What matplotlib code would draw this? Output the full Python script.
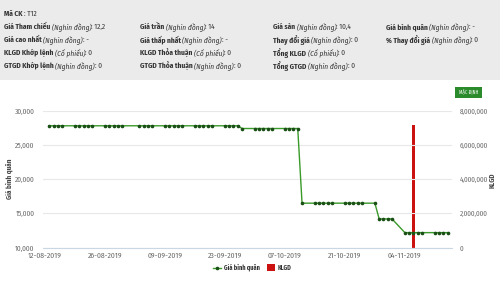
import matplotlib
matplotlib.use('Agg')
import matplotlib.pyplot as plt
import matplotlib.dates as mdates
from matplotlib import font_manager
from matplotlib.patches import Rectangle
import pandas as pd

# chọn font chữ hẹp có sẵn
have = set(f.name for f in font_manager.fontManager.ttflist)
cands = ['Fira Sans Condensed', 'Roboto Condensed', 'Encode Sans Condensed',
         'Barlow Semi Condensed', 'PT Sans Narrow', 'Archivo Narrow', 'Open Sans Condensed']
narrow = [c for c in cands if c in have]
plt.rcParams['font.family'] = narrow[:1] + ['DejaVu Sans']

# giá bình quân theo phiên
dates = ['2019-08-13', '2019-08-14', '2019-08-15', '2019-08-16',
         '2019-08-19', '2019-08-20', '2019-08-21', '2019-08-22', '2019-08-23',
         '2019-08-26', '2019-08-27', '2019-08-28', '2019-08-29', '2019-08-30',
         '2019-09-03', '2019-09-04', '2019-09-05', '2019-09-06',
         '2019-09-09', '2019-09-10', '2019-09-11', '2019-09-12', '2019-09-13',
         '2019-09-16', '2019-09-17', '2019-09-18', '2019-09-19', '2019-09-20',
         '2019-09-23', '2019-09-24', '2019-09-25', '2019-09-26', '2019-09-27',
         '2019-09-30', '2019-10-01', '2019-10-02', '2019-10-03', '2019-10-04',
         '2019-10-07', '2019-10-08', '2019-10-09', '2019-10-10', '2019-10-11',
         '2019-10-14', '2019-10-15', '2019-10-16', '2019-10-17', '2019-10-18',
         '2019-10-21', '2019-10-22', '2019-10-23', '2019-10-24', '2019-10-25',
         '2019-10-28', '2019-10-29', '2019-10-30', '2019-10-31', '2019-11-01',
         '2019-11-04', '2019-11-05', '2019-11-06', '2019-11-07', '2019-11-08',
         '2019-11-11', '2019-11-12', '2019-11-13', '2019-11-14']
prices = [27800, 27800, 27800, 27800,
          27800, 27800, 27800, 27800, 27800,
          27800, 27800, 27800, 27800, 27800,
          27800, 27800, 27800, 27800,
          27800, 27800, 27800, 27800, 27800,
          27800, 27800, 27800, 27800, 27800,
          27800, 27800, 27800, 27800, 27400,
          27400, 27400, 27400, 27400, 27400,
          27400, 27400, 27400, 27400, 16500,
          16500, 16500, 16500, 16500, 16500,
          16500, 16500, 16500, 16500, 16500,
          16500, 14200, 14200, 14200, 14200,
          12200, 12200, 12200, 12200, 12200,
          12200, 12200, 12200, 12200]

vol_dates = ['2019-11-06']
volumes = [7150000]

tick_dates = ['2019-08-12', '2019-08-26', '2019-09-09', '2019-09-23',
              '2019-10-07', '2019-10-21', '2019-11-04']
price_ticks = [10000, 15000, 20000, 25000, 30000]
vol_ticks = [0, 2000000, 4000000, 6000000, 8000000]

# thông tin phiên: (nhãn, đơn vị, giá trị)
info_cols = [
    [('Mã CK', None, 'T12'),
     ('Giá Tham chiếu', 'Nghìn đồng', '12,2'),
     ('Giá cao nhất', 'Nghìn đồng', '-'),
     ('KLGD Khớp lệnh', 'Cổ phiếu', '0'),
     ('GTGD Khớp lệnh', 'Nghìn đồng', '0')],
    [None,
     ('Giá trần', 'Nghìn đồng', '14'),
     ('Giá thấp nhất', 'Nghìn đồng', '-'),
     ('KLGD Thỏa thuận', 'Cổ phiếu', '0'),
     ('GTGD Thỏa thuận', 'Nghìn đồng', '0')],
    [None,
     ('Giá sàn', 'Nghìn đồng', '10,4'),
     ('Thay đổi giá', 'Nghìn đồng', '0'),
     ('Tổng KLGD', 'Cổ phiếu', '0'),
     ('Tổng GTGD', 'Nghìn đồng', '0')],
    [None,
     ('Giá bình quân', 'Nghìn đồng', '-'),
     ('% Thay đổi giá', 'Nghìn đồng', '0'),
     None, None],
]

W, H = 500, 281
fig = plt.figure(figsize=(5, 2.81), dpi=100)
fig.patch.set_facecolor('white')

# nền xám phần thông tin
fig.patches.append(Rectangle((0, 1 - 80 / H), 1, 80 / H, transform=fig.transFigure,
                             facecolor='#ebebeb', edgecolor='none', zorder=0))

renderer = fig.canvas.get_renderer()


def put_row(x, y, item):
    label, unit, val = item
    xp = x
    parts = [(label + ' ', 'bold', 'normal')]
    if unit:
        parts.append(('(' + unit + ')', 'normal', 'italic'))
    parts.append((': ' + val, 'normal', 'normal'))
    for s, w, st in parts:
        t = fig.text(xp / W, 1 - y / H, s, fontsize=5.3, fontweight=w, fontstyle=st,
                     color='#333333', va='center', ha='left')
        bb = t.get_window_extent(renderer)
        xp += bb.width


col_x = [4, 140, 273, 386]
row_y = [14, 27, 40, 53, 66]
for cx, col in zip(col_x, info_cols):
    for ry, item in zip(row_y, col):
        if item:
            put_row(cx, ry, item)

# khung biểu đồ
left, right = 43 / W, 452 / W
bottom, top = 1 - 247.7 / H, 1 - 110.7 / H
ax = fig.add_axes([left, bottom, right - left, top - bottom])
ax2 = ax.twinx()

d = pd.to_datetime(dates)
vd = pd.to_datetime(vol_dates)
t0 = pd.Timestamp('2019-08-12')
ax.set_xlim(t0 - pd.Timedelta(hours=11), t0 + pd.Timedelta(days=95))
ax.set_ylim(10000, 30000)
ax2.set_ylim(0, 8000000)

ax.set_zorder(ax2.get_zorder() + 1)
ax.patch.set_visible(False)

for v in price_ticks:
    ax.axhline(v, color='#e8e8e8', lw=0.8, zorder=0)

ax.plot(d, prices, color='#3a9a2a', lw=1.0, marker='o', ms=1.6,
        mfc='#1a4f16', mec='#1a4f16', zorder=3)
ax2.bar(vd, volumes, width=0.7, color='#cc1111', zorder=2)

for a in (ax, ax2):
    for s in a.spines.values():
        s.set_visible(False)
ax.spines['bottom'].set_visible(True)
ax.spines['bottom'].set_color('#c9d6e6')
ax.spines['bottom'].set_linewidth(0.8)

ax.set_yticks(price_ticks)
ax.set_yticklabels(['{:,}'.format(v) for v in price_ticks])
ax2.set_yticks(vol_ticks)
ax2.set_yticklabels(['{:,}'.format(v) for v in vol_ticks])
ax.set_xticks(pd.to_datetime(tick_dates))
ax.xaxis.set_major_formatter(mdates.DateFormatter('%d-%m-%Y'))

ax.tick_params(axis='y', length=0, pad=6, labelsize=5.3, labelcolor='#666666')
ax2.tick_params(axis='y', length=0, pad=5.5, labelsize=5.1, labelcolor='#666666')
ax.tick_params(axis='x', length=0, pad=3, labelsize=5.5, labelcolor='#666666')

# nhãn trục
fig.text(9 / W, 1 - 179 / H, 'Giá bình quân', rotation=90, fontsize=5, fontweight='bold',
         color='#444444', ha='center', va='center')
fig.text(493 / W, 1 - 180 / H, 'KLGD', rotation=90, fontsize=5, fontweight='bold',
         color='#444444', ha='center', va='center')

# nút "MẶC ĐỊNH"
fig.patches.append(Rectangle((455 / W, 1 - 98 / H), 27 / W, 11 / H, transform=fig.transFigure,
                             facecolor='#2b8a2b', edgecolor='none'))
fig.text(468.5 / W, 1 - 92.5 / H, 'MẶC ĐỊNH', fontsize=3.5, color='white',
         ha='center', va='center')

# chú giải
ly = 1 - 267.5 / H
fig.lines.append(plt.Line2D([213 / W, 221 / W], [ly, ly], transform=fig.transFigure,
                            color='#3a9a2a', lw=1.0))
fig.lines.append(plt.Line2D([217 / W], [ly], transform=fig.transFigure, marker='o',
                            ms=1.6, color='#1a4f16'))
fig.text(224 / W, ly, 'Giá bình quân', fontsize=4.5, fontweight='bold', color='#333333',
         va='center', ha='left')
fig.patches.append(Rectangle((266.5 / W, ly - 3.5 / H), 8 / W, 7 / H, transform=fig.transFigure,
                             facecolor='#cc1111', edgecolor='none'))
fig.text(278 / W, ly, 'KLGD', fontsize=4.5, fontweight='bold', color='#333333',
         va='center', ha='left')

fig.savefig('out.png', dpi=100)
